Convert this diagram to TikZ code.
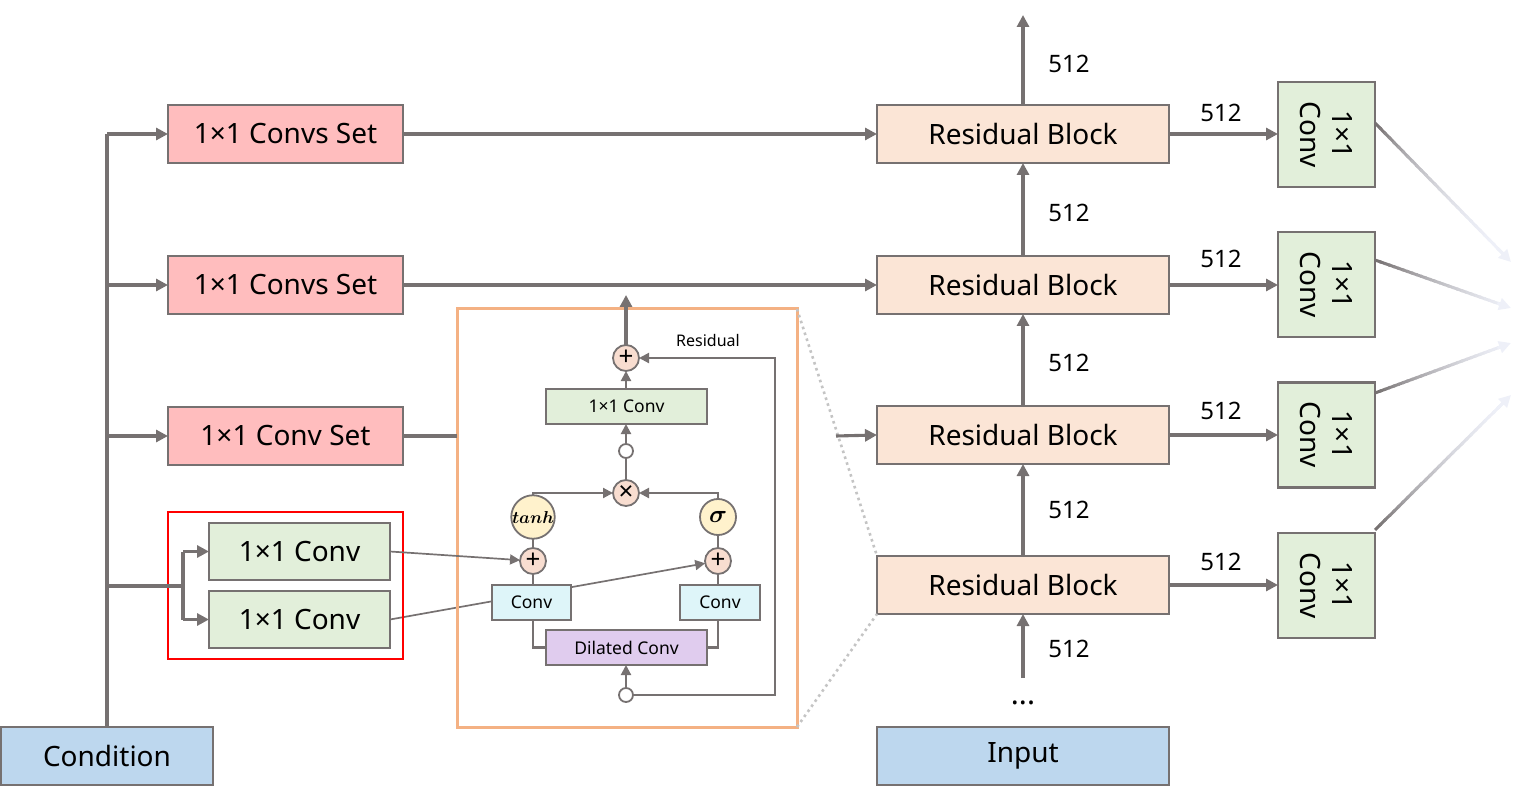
\documentclass[tikz,border=0pt]{standalone}
\usepackage{fontspec}
\setmainfont{Noto Sans}
\usepackage{amsmath,bm}
\usetikzlibrary{arrows.meta,calc,backgrounds}
\definecolor{lg}{HTML}{767171}
\definecolor{pinkf}{HTML}{FFBDBE}
\definecolor{peachf}{HTML}{FBE5D6}
\definecolor{greenf}{HTML}{E2EFDA}
\definecolor{bluef}{HTML}{BDD7EE}
\definecolor{cyanf}{HTML}{DEF5F9}
\definecolor{purplef}{HTML}{E0CCEE}
\definecolor{yellowf}{HTML}{FFF2CC}
\definecolor{opf}{HTML}{F8DDD0}
\definecolor{orangeb}{HTML}{F4B183}
\definecolor{dotc}{HTML}{C4C4C4}
\definecolor{fadeend}{HTML}{EEF0F8}
\tikzset{
  bigtxt/.style={font=\fontsize{28}{32}\selectfont},
  box/.style={draw=lg, line width=2.3pt, inner sep=0pt, outer sep=0pt, bigtxt},
  setbox/.style={box, fill=pinkf, minimum width=235pt, minimum height=58pt},
  resbox/.style={box, fill=peachf, minimum width=292pt, minimum height=58pt},
  gbox/.style={box, fill=greenf, minimum width=181pt, minimum height=57pt},
  iobox/.style={box, fill=bluef, minimum height=58pt},
  vbox/.style={box, fill=greenf, minimum width=97pt, minimum height=105pt},
  ibox/.style={draw=lg, line width=1.8pt, inner sep=0pt, outer sep=0pt, minimum height=35pt, font=\fontsize{17.5}{20}\selectfont},
  op/.style={circle, draw=lg, line width=1.8pt, fill=opf, minimum size=26pt, inner sep=0pt, outer sep=0pt, font=\fontsize{26}{26}\selectfont},
  act/.style={circle, draw=lg, line width=1.8pt, fill=yellowf, minimum size=36pt, inner sep=0pt, outer sep=0pt},
  dotn/.style={circle, draw=lg, line width=1.8pt, fill=white, minimum size=14pt, inner sep=0pt, outer sep=0pt},
  ln/.style={draw=lg, line width=3.1pt},
  arr/.style={ln, -{Triangle[length=12pt,width=12pt]}},
  iln/.style={draw=lg, line width=2.1pt},
  iarr/.style={iln, -{Triangle[length=10pt,width=10pt]}},
  num/.style={font=\fontsize{24}{28}\selectfont},
  dotline/.style={draw=dotc, line width=2.6pt, dash pattern=on 2.6pt off 3.6pt},
}
\begin{document}
\begin{tikzpicture}[x=1pt,y=-1pt]
\useasboundingbox (0,0) rectangle (1525,791);
% left column
\node[iobox, minimum width=212pt] (cond) at (107,756) {Condition};
\node[setbox] (cs1) at (285.5,134) {1×1 Convs Set};
\node[setbox] (cs2) at (285.5,285) {1×1 Convs Set};
\node[setbox] (cs3) at (285.5,436) {1×1 Conv Set};
\node[gbox] (g1) at (299.5,551.5) {1×1 Conv};
\node[gbox] (g2) at (299.5,619.5) {1×1 Conv};
\draw[red, line width=2pt] (168,512) rectangle (403,659);
\draw[ln] (cond.north) -- (cond.north |- cs1.west);
\draw[arr] (cond.north |- cs1.west) -- (cs1.west);
\draw[arr] (cond.north |- cs2.west) -- (cs2.west);
\draw[arr] (cond.north |- cs3.west) -- (cs3.west);
\coordinate (split) at (183,586);
\draw[ln] (cond.north |- split) -- (split);
\draw[ln] (split |- g1.west) -- (split |- g2.west);
\draw[arr] (split |- g1.west) -- (g1.west);
\draw[arr] (split |- g2.west) -- (g2.west);
% residual column
\node[resbox] (rb1) at (1023,134) {Residual Block};
\node[resbox] (rb2) at (1023,285) {Residual Block};
\node[resbox] (rb3) at (1023,435) {Residual Block};
\node[resbox] (rb4) at (1023,585) {Residual Block};
\node[iobox, minimum width=292pt] (inp) at (1023,756) {Input};
\node[font=\bfseries\fontsize{30}{30}\selectfont] (dots) at (1023,703) {...};
\coordinate (topout) at (1023,15);
\coordinate (botin) at (1023,678);
\draw[arr] (rb1.north) -- (topout);
\draw[arr] (rb2.north) -- (rb1.south);
\draw[arr] (rb3.north) -- (rb2.south);
\draw[arr] (rb4.north) -- (rb3.south);
\draw[arr] (botin) -- (rb4.south);
\node[num] (n1) at (1069,64) {512};
\node[num] (n2) at (1069,213) {512};
\node[num] (n3) at (1069,363) {512};
\node[num] (n4) at (1069,510) {512};
\node[num] (n5) at (1069,649) {512};
% 1x1 conv vertical boxes
\node[vbox] (v1) at (1326.5,134.5) {};
\node[vbox] (v2) at (1326.5,284.5) {};
\node[vbox] (v3) at (1326.5,435) {};
\node[vbox] (v4) at (1326.5,585.5) {};
\foreach \v in {v1,v2,v3,v4}{
  \node[rotate=-90, align=center, bigtxt, inner sep=0pt] (\v t) at (\v) {1×1\\Conv};
}
\draw[arr] (rb1.east) -- (rb1.east -| v1.west);
\draw[arr] (rb2.east) -- (rb2.east -| v2.west);
\draw[arr] (rb3.east) -- (rb3.east -| v3.west);
\draw[arr] (rb4.east) -- (rb4.east -| v4.west);
\node[num] (m1) at (1221,113) {512};
\node[num] (m2) at (1221,259) {512};
\node[num] (m3) at (1221,411) {512};
\node[num] (m4) at (1221,562) {512};
% fading outputs
\coordinate (c1) at ($(v1.east)+(0,-11.5)$);
\coordinate (c2) at ($(v2.east)+(0,-24.5)$);
\coordinate (c3) at ($(v3.east)+(0,-42)$);
\coordinate (c4) at ($(v4.east)+(0,-55.5)$);
\coordinate (f1) at (1511,262);
\coordinate (f2) at (1511,308);
\coordinate (f3) at (1511,343);
\coordinate (f4) at (1511,395);
\foreach \s/\e/\ex in {c1/f1/2.6, c2/f2/1.5, c3/f3/1.6, c4/f4/2.0}{
  \foreach \i in {0,...,29}{
    \pgfmathsetmacro\ta{\i/30}
    \pgfmathsetmacro\tb{min((\i+1.4)/30,0.96)}
    \pgfmathtruncatemacro\p{100*(1-\ta)^\ex}
    \ifdim\ta pt<0.96pt
    \draw[line width=3pt, draw=lg!\p!fadeend] ($(\s)!\ta!(\e)$) -- ($(\s)!\tb!(\e)$);
    \fi
  }
  \draw[draw=fadeend, line width=3pt, -{Triangle[length=12pt,width=12pt]}] ($(\s)!0.9!(\e)$) -- (\e);
}
% inner block
\node[draw=orangeb, line width=3pt, minimum width=340pt, minimum height=418pt, inner sep=0pt, outer sep=0pt] (blk) at (627,518) {};
\draw[dotline] (blk.north east) -- (rb4.north west);
\draw[dotline] (blk.south east) -- (rb4.south west);
\draw[arr] (cs1.east) -- (rb1.west);
\draw[arr] (cs2.east) -- (rb2.west);
\draw[ln] (cs3.east) -- (cs3.east -| blk.west);
\coordinate (rin) at (836,436);
\draw[arr] (rin) -- (rb3.west);

\node[op] (plusT) at (626,358) {+};
\node[ibox, fill=greenf, minimum width=161pt] (cin) at (626.5,406.5) {1×1 Conv};
\node[dotn] (circW) at (626,451) {};
\node[op] (times) at (626,493) {×};
\node[act, font=\fontsize{19}{19}\selectfont] (tanhN) at (533,517) {$\boldsymbol{tanh}$};
\node[act, font=\fontsize{25}{25}\selectfont] (sigN) at (718,517) {$\boldsymbol{\sigma}$};
\node[op] (plusL) at (533,561) {+};
\node[op] (plusR) at (718,561) {+};
\node[ibox, fill=cyanf, minimum width=79pt] (convL) at (531.5,602.5) {Conv};
\node[ibox, fill=cyanf, minimum width=80pt] (convR) at (720,602.5) {Conv};
\node[ibox, fill=purplef, minimum width=161pt] (dil) at (626.5,647.5) {Dilated Conv};
\node[dotn] (circB) at (626,695) {};
\node[font=\bfseries\fontsize{16}{18}\selectfont] (reslab) at (708,340) {Residual};

\coordinate (outT) at (626,295);
\coordinate (rr) at (775,358);
\draw[arr] (plusT.north) -- (outT);
\draw[iarr] (cin.north -| plusT) -- (plusT.south);
\draw[iarr] (circW.north) -- (cin.south -| circW);
\draw[iln] (times.north) -- (circW.south);
\draw[iarr] (tanhN.north) -- (tanhN.north |- times) -- (times.west);
\draw[iarr] (sigN.north) -- (sigN.north |- times) -- (times.east);
\draw[iln] (plusL.north) -- (tanhN.south);
\draw[iln] (plusR.north) -- (sigN.south);
\draw[iln] (plusL.south) -- (plusL.south |- convL.north);
\draw[iln] (plusR.south) -- (plusR.south |- convR.north);
\draw[iln] (plusL.south |- convL.south) |- (dil.west);
\draw[iln] (plusR.south |- convR.south) |- (dil.east);
\draw[iarr] (circB.north) -- (dil.south -| circB);
\draw[iarr] (circB.east) -- (circB.east -| rr) -- (rr) -- (plusT.east);
\draw[draw=lg, line width=1.7pt, -{Triangle[length=10pt,width=10pt]}] (g1.east) -- (plusL);
\begin{pgfonlayer}{background}
\draw[draw=lg, line width=1.7pt, -{Triangle[length=10pt,width=10pt]}] (g2.east) -- (plusR);
\end{pgfonlayer}
\end{tikzpicture}
\end{document}
